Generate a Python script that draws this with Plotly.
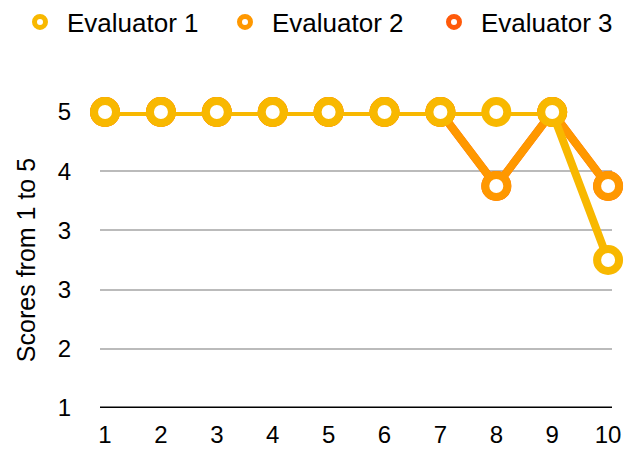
import plotly.graph_objects as go

x_vals = [1, 2, 3, 4, 5, 6, 7, 8, 9, 10]
evaluator1 = [5, 5, 5, 5, 5, 5, 5, 5, 5, 3]
evaluator2 = [5, 5, 5, 5, 5, 5, 5, 4, 5, 4]
evaluator3 = [5, 5, 5, 5, 5, 5, 5, 4, 5, 4]
series_names = ["Evaluator 1", "Evaluator 2", "Evaluator 3"]
series_colors = ["#F8B800", "#FF9800", "#FF5A0A"]
y_tickvals = [1, 1.8, 2.6, 3.4, 4.2, 5]
y_ticktext = ["1", "2", "3", "3", "4", "5"]

FONT = "Liberation Sans"
W, H = 631, 449
series = [evaluator1, evaluator2, evaluator3]
legend_ids = ["legend", "legend2", "legend3"]
legend_marker_px = [40, 245, 454]

fig = go.Figure()
# draw in reverse so Evaluator 1 is on top
for name, vals, col in reversed(list(zip(series_names, series, series_colors))):
    fig.add_trace(go.Scatter(
        x=x_vals, y=vals, mode="lines+markers", name=name, showlegend=False,
        line=dict(color=col, width=8),
        marker=dict(size=22, color="white", line=dict(color=col, width=8)),
        cliponaxis=False,
    ))
for name, col, lid in zip(series_names, series_colors, legend_ids):
    fig.add_trace(go.Scatter(
        x=[None], y=[None], mode="markers", name=name, legend=lid,
        marker=dict(size=11, color="white", line=dict(color=col, width=5)),
    ))

legend_common = dict(orientation="h", xref="container", yref="container",
                     xanchor="left", yanchor="middle", y=1 - 22 / H,
                     font=dict(size=26, family=FONT, color="black"),
                     itemwidth=44, bgcolor="rgba(0,0,0,0)")
legends = {}
for lid, mx in zip(legend_ids, legend_marker_px):
    legends[lid] = dict(legend_common, x=(mx - 27) / W)

fig.update_layout(
    width=W, height=H,
    margin=dict(l=100, r=19, t=112, b=41, autoexpand=False),
    paper_bgcolor="white", plot_bgcolor="white",
    font=dict(family=FONT, size=24, color="black"),
    showlegend=True,
    xaxis=dict(range=[0.91, 10.07], tickvals=x_vals, showgrid=False,
               zeroline=False, showline=False, ticks="",
               ticklabelstandoff=10),
    yaxis=dict(range=[1, 5], tickvals=y_tickvals, ticktext=y_ticktext,
               showgrid=True, gridcolor="#BBBBBB", gridwidth=2,
               zeroline=False, showline=False, ticks="",
               ticklabelstandoff=28,
               title=dict(text="Scores from 1 to 5", standoff=14,
                          font=dict(size=25))),
    **legends,
)
# baseline at y=1
fig.add_shape(type="line", xref="paper", yref="y", x0=0, x1=1, y0=1, y1=1,
              line=dict(color="black", width=3), layer="above")

fig.write_html("out.html", config={"displayModeBar": False},
               post_script="document.body.style.margin='0';")
